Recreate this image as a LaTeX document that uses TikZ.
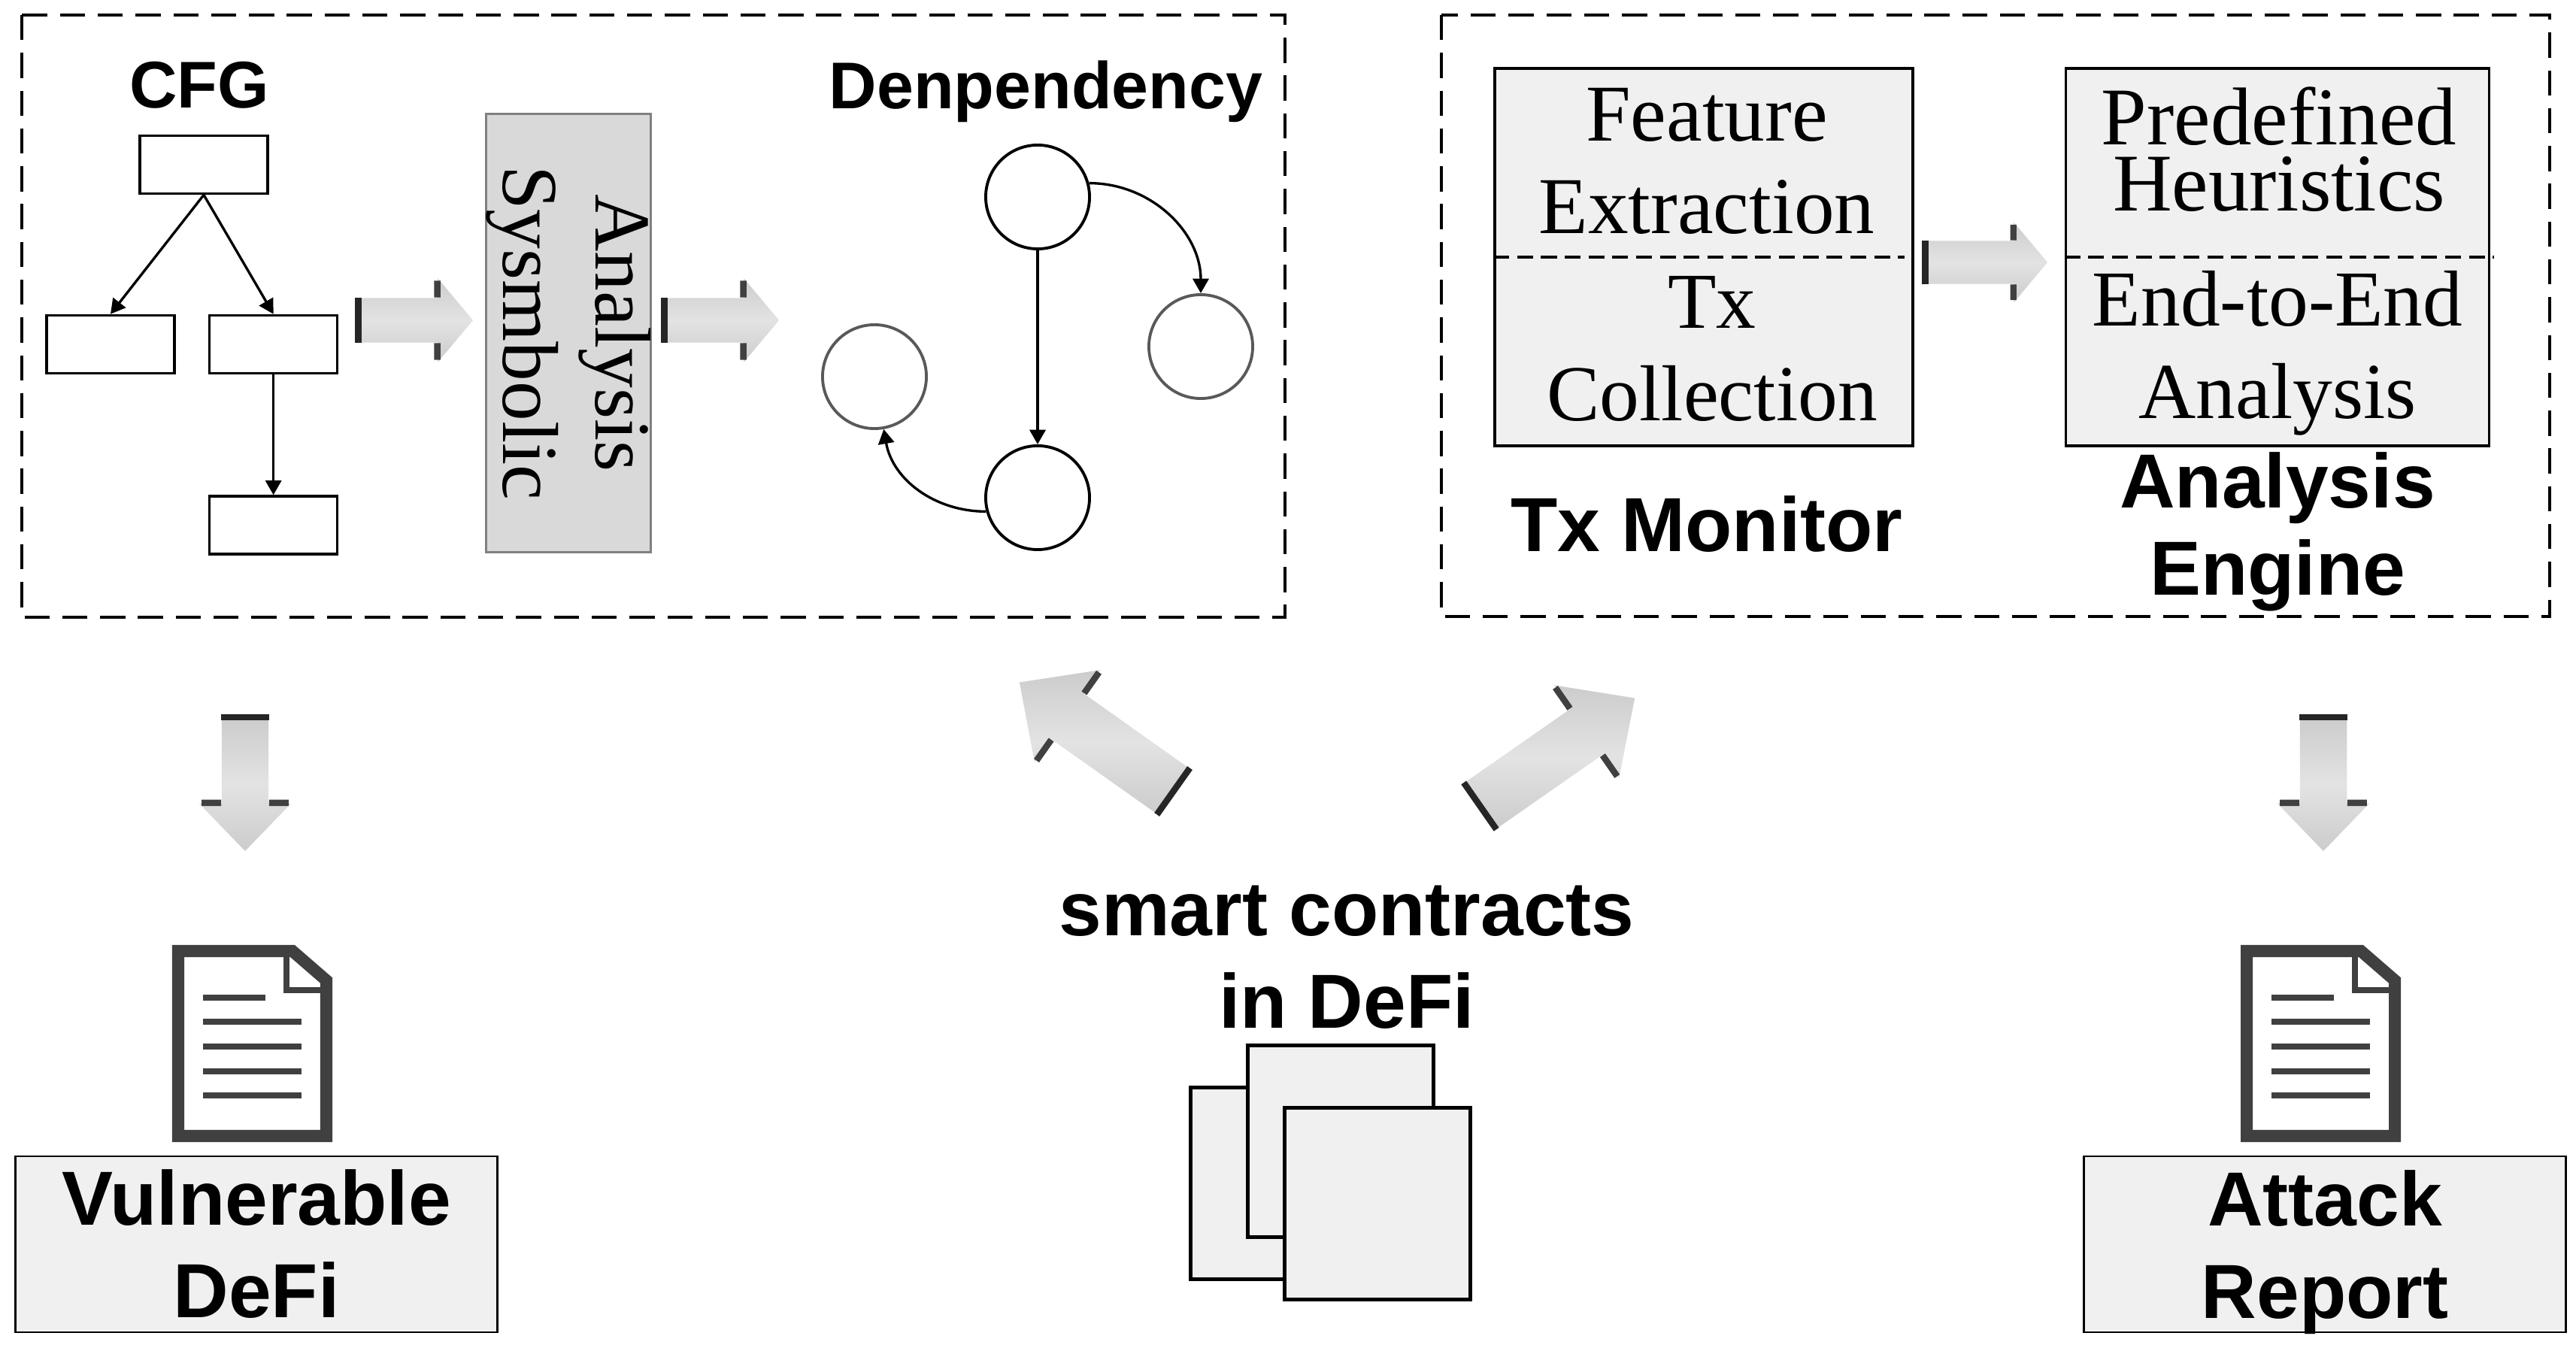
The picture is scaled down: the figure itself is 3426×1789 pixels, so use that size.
\documentclass[tikz,border=0pt]{standalone}
\usepackage{fontspec}
\setmainfont{Liberation Sans}
\newfontfamily\boxfont{Liberation Serif}
\usetikzlibrary{positioning,arrows.meta,shapes.arrows}
\definecolor{panelgray}{HTML}{F0F0F0}
\definecolor{symbgray}{HTML}{D9D9D9}
\definecolor{docgray}{HTML}{404040}
\newcommand{\arrowmarks}[1]{%
  \draw[tailbar] (#1.before tail) -- (#1.after tail);
  \draw[headbar] (#1.before head) -- (#1.before tip);
  \draw[headbar] (#1.after head) -- (#1.after tip);}
\tikzset{
  docicon/.pic={
    \draw[draw=docgray, fill=white, line width=.16cm, miter limit=4]
      (8,-8) -- (160,-8) -- (205,-47) -- (205,-254) -- (8,-254) -- cycle;
    \draw[draw=docgray, line width=.08cm] (152,-12) -- (152,-60) -- (200,-60);
    \draw[draw=docgray, line width=.08cm] (41,-70) -- (124,-70);
    \foreach \y in {102,135,168,200}
      \draw[draw=docgray, line width=.08cm] (41,-\y) -- (172,-\y);
  }
}
\begin{document}
\begin{tikzpicture}[
  x=0.01cm, y=0.01cm,
  title/.style={font=\bfseries\fontsize{25}{30}\selectfont, inner sep=0pt},
  heading/.style={font=\bfseries\fontsize{29}{33}\selectfont, inner sep=0pt, align=center},
  cell/.style={font=\boxfont\fontsize{30}{35}\selectfont, inner sep=0pt, align=center},
  group/.style={draw, line width=1pt, dash pattern=on 9.5pt off 4.8pt},
  cfgbox/.style={draw, fill=white, line width=1pt, minimum width=1.7cm, minimum height=.77cm, inner sep=0pt},
  depnode/.style={draw, circle, line width=1.1pt, minimum size=1.38cm, inner sep=0pt},
  fadednode/.style={depnode, draw=black!65},
  panel/.style={draw, fill=panelgray, line width=1pt, inner sep=0pt},
  report/.style={panel, line width=.8pt, minimum width=6.4cm, minimum height=2.34cm,
    font=\bfseries\fontsize{29}{35}\selectfont, align=center},
  page/.style={draw, fill=panelgray, line width=1.4pt, minimum width=2.47cm, minimum height=2.55cm, inner sep=0pt},
  link/.style={-{Triangle[length=5.5pt,width=6pt]}, line width=.95pt},
  divider/.style={line width=1pt, dash pattern=on 6pt off 3pt},
  flow/.style={single arrow, anchor=tip, inner sep=0pt, single arrow head indent=0pt,
    top color=black!20, bottom color=black!20, middle color=black!11},
  hflow/.style={flow, text height=.58cm, minimum height=1.52cm, minimum width=1.1cm, single arrow tip angle=100, single arrow head extend=.26cm},
  vflow/.style={flow, text height=.61cm, minimum height=1.77cm, minimum width=1.21cm, single arrow tip angle=88, single arrow head extend=.3cm},
  dflow/.style={flow, text height=.73cm, minimum height=2.5cm, minimum width=1.5cm, single arrow tip angle=88, single arrow head extend=.38cm},
  tailbar/.style={line width=2.4pt, black!85},
  headbar/.style={line width=2.4pt, black!75, shorten >=.05cm}]
\useasboundingbox (0,0) rectangle (3426,-1789);

% static side
\draw[group] (29,-20) rectangle (1709,-821);
\node[title] (cfglabel) at (265,-113) {CFG};
\node[cfgbox] (cfgtop) at (271,-219) {};
\node[cfgbox] (cfgleft) at (147,-458) {};
\node[cfgbox, right=.43cm of cfgleft] (cfgright) {};
\node[cfgbox, below=1.6cm of cfgright] (cfgend) {};
\draw[link] (cfgtop.south) -- (cfgleft.north);
\draw[link] (cfgtop.south) -- (cfgright.north);
\draw[link] (cfgright.south) -- (cfgend.north);
\node[draw=black!50, fill=symbgray, line width=.8pt, minimum width=5.83cm, minimum height=2.19cm,
  rotate=-90, cell] (symb) at (756,-443) {Analysis\\Sysmbolic};
\node[hflow] (flowa) at (630,-426) {};
\node[hflow] (flowb) at (1037,-426) {};
\arrowmarks{flowa}
\arrowmarks{flowb}
\node[title] (deplabel) at (1391,-122) {Denpendency};
\node[depnode] (deptop) at (1380,-262) {};
\node[depnode] (depbot) at (1380,-662) {};
\node[fadednode] (depright) at (1597,-461) {};
\node[fadednode] (depleft) at (1163,-501) {};
\draw[link] (deptop) -- (depbot);
\draw[link] (deptop.15) to[out=0, in=90] (depright.north);
\draw[link] (depbot.195) to[out=180, in=-80] (depleft.-80);

% runtime side
\draw[group] (1917,-20) rectangle (3391,-820);
\node[panel, minimum width=5.56cm, minimum height=5.02cm] (txbox) at (2266,-342) {};
\node[panel, minimum width=5.63cm, minimum height=5.02cm] (enginebox) at (3029,-342) {};
\draw[divider] (txbox.west) -- ([xshift=-.13cm]txbox.east);
\draw[divider] (enginebox.west) -- ([xshift=.05cm]enginebox.east);
\node[cell, font=\boxfont\fontsize{30.5}{35}\selectfont] (feature) at (2270,-214) {Feature\\Extraction};
\node[cell] (collect) at (2277,-464) {Tx\\Collection};
\node[cell, font=\boxfont\fontsize{31}{25}\selectfont] (heur) at (3031,-199) {Predefined\\Heuristics};
\node[cell] (e2e) at (3029,-470) {End-to-End\\Analysis};
\node[hflow, minimum height=1.62cm, minimum width=1.05cm, text height=.56cm, single arrow head extend=.245cm] (flowc) at (2724,-349) {};
\arrowmarks{flowc}
\node[heading] (txlabel) at (2270,-697) {Tx Monitor};
\node[heading] (enginelabel) at (3029,-707) {Analysis\\Engine};

% contracts
\node[dflow, rotate=144.7] (flowd) at (1355,-907) {};
\node[dflow, rotate=34.9] (flowe) at (2175,-928) {};
\arrowmarks{flowd}
\arrowmarks{flowe}
\node[heading, font=\bfseries\fontsize{29}{35}\selectfont] (contracts) at (1791,-1273) {smart contracts\\in DeFi};
\node[page] (pagea) at (1707,-1574) {};
\node[page] (pageb) at (1783,-1518) {};
\node[page] (pagec) at (1832,-1601) {};

% outputs
\node[vflow, rotate=-90] (flowf) at (326,-1133) {};
\node[vflow, rotate=-90] (flowg) at (3090,-1133) {};
\arrowmarks{flowf}
\arrowmarks{flowg}
\pic (docleft) at (229,-1257) {docicon};
\pic (docright) at (2980,-1257) {docicon};
\node[report] (vuln) at (341,-1655) {Vulnerable\\DeFi};
\node[report, text depth=0pt] (attack) at (3092,-1655) {Attack\\Report};
\end{tikzpicture}
\end{document}
